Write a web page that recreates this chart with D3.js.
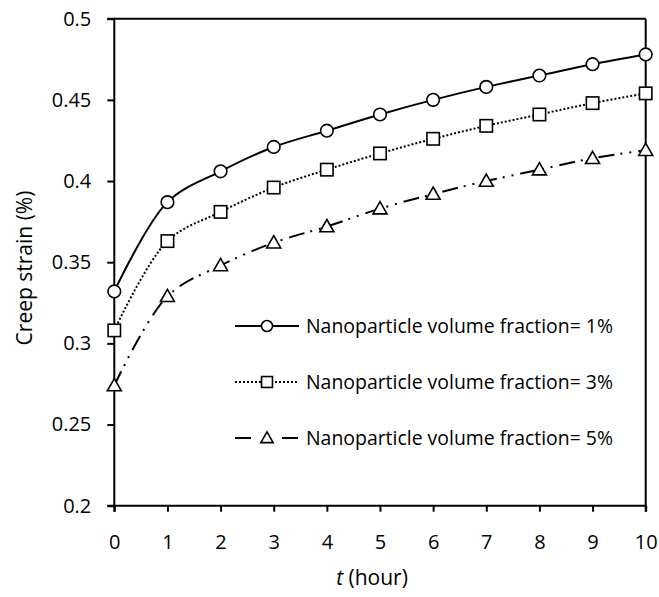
<!DOCTYPE html>
<html>
<head>
<meta charset="utf-8">
<script src="https://cdn.jsdelivr.net/npm/d3@7"></script>
<style>
html,body{margin:0;padding:0;background:#fff;}
svg{display:block;}
text{font-family:"Open Sans",Lato,sans-serif;fill:#000;}
</style>
</head>
<body>
<svg id="chart" width="659" height="597"></svg>
<script>
const hours = [0,1,2,3,4,5,6,7,8,9,10];
const vf1 = [0.332,0.387,0.406,0.421,0.431,0.441,0.450,0.458,0.465,0.472,0.478];
const vf3 = [0.308,0.363,0.381,0.396,0.407,0.417,0.426,0.434,0.441,0.448,0.454];
const vf5 = [0.274,0.329,0.348,0.362,0.372,0.383,0.392,0.400,0.407,0.414,0.419];
const seriesNames = ["Nanoparticle volume fraction= 1%","Nanoparticle volume fraction= 3%","Nanoparticle volume fraction= 5%"];
const xTicks = [0,1,2,3,4,5,6,7,8,9,10];
const yTicks = [0.2,0.25,0.3,0.35,0.4,0.45,0.5];

const FONT = "'Open Sans',Lato,sans-serif";
const FS = 20;
const svg = d3.select("#chart");
const L = 114.3, R = 645.7, T = 18.7, B = 505.7;
const x = d3.scaleLinear().domain([0,10]).range([L,R]);
const y = d3.scaleLinear().domain([0.2,0.5]).range([B,T]);

// frame top & right
svg.append("line").attr("x1",L).attr("x2",R).attr("y1",T).attr("y2",T).attr("stroke","#000").attr("stroke-width",2);
svg.append("line").attr("x1",R).attr("x2",R).attr("y1",T).attr("y2",B).attr("stroke","#000").attr("stroke-width",2);

const xAxis = svg.append("g").attr("transform",`translate(0,${B})`)
  .call(d3.axisBottom(x).tickValues(xTicks).tickSize(6).tickPadding(23).tickFormat(d3.format("d")));
const yAxis = svg.append("g").attr("transform",`translate(${L},0)`)
  .call(d3.axisLeft(y).tickValues(yTicks).tickSize(7).tickPadding(16).tickFormat(d=>String(+d.toFixed(2))));
[xAxis,yAxis].forEach(g=>{
  g.attr("font-size",FS).attr("font-family",FONT);
  g.select(".domain").attr("stroke","#000").attr("stroke-width",2);
  g.selectAll(".tick line").attr("stroke","#000").attr("stroke-width",2);
  g.selectAll(".tick text").attr("font-size",FS).attr("font-family",FONT).attr("fill","#000");
});
yAxis.select(".domain").attr("d",`M${-7},${B}H0V${T}H${-7}`);
xAxis.select(".domain").attr("d",`M${L},6V0H${R}V6`);

// axis titles
svg.append("text").attr("transform",`translate(25,268) rotate(-90)`).attr("text-anchor","middle")
  .attr("dy","0.35em").attr("font-size",21).text("Creep strain (%)");
const xt = svg.append("text").attr("x",372).attr("y",578).attr("dy","0.35em").attr("text-anchor","middle").attr("font-size",21);
xt.append("tspan").attr("font-style","italic").text("t");
xt.append("tspan").text(" (hour)");

const styles = [
  {data:vf1, dash:null, marker:"circle"},
  {data:vf3, dash:"2,2", marker:"square"},
  {data:vf5, dash:"16,6,2,7,2,7", marker:"triangle"}
];

const line = d3.line().x((d,i)=>x(hours[i])).y(d=>y(d)).curve(d3.curveCatmullRom.alpha(0.5));

function drawMarker(g, type, cx, cy, s){
  if(type==="circle"){
    g.append("circle").attr("cx",cx).attr("cy",cy).attr("r",6.3*s).attr("fill","#fff").attr("stroke","#000").attr("stroke-width",1.6);
  } else if(type==="square"){
    const h=6.2*s;
    g.append("rect").attr("x",cx-h).attr("y",cy-h).attr("width",2*h).attr("height",2*h).attr("fill","#fff").attr("stroke","#000").attr("stroke-width",1.6);
  } else {
    const h=7*s;
    g.append("path").attr("d",`M${cx},${cy-h}L${cx+h},${cy+h*0.75}L${cx-h},${cy+h*0.75}Z`).attr("fill","#fff").attr("stroke","#000").attr("stroke-width",1.6);
  }
}

styles.forEach(st=>{
  svg.append("path").attr("d",line(st.data)).attr("fill","none").attr("stroke","#000")
    .attr("stroke-width",2).attr("stroke-dasharray",st.dash);
  const g = svg.append("g");
  st.data.forEach((v,i)=>drawMarker(g, st.marker, x(hours[i]), y(v), 1));
});

// legend
const legY = [326, 382, 438];
const legDash = [null, "2,2", "16,31"];
styles.forEach((st,i)=>{
  const g = svg.append("g");
  g.append("line").attr("x1",235).attr("x2",299).attr("y1",legY[i]).attr("y2",legY[i])
    .attr("stroke","#000").attr("stroke-width",2).attr("stroke-dasharray",legDash[i]);
  drawMarker(g, st.marker, 267, legY[i], 0.88);
  g.append("text").attr("x",306).attr("y",legY[i]).attr("dy","0.35em").attr("font-size",FS)
    .attr("textLength",307).attr("lengthAdjust","spacingAndGlyphs").text(seriesNames[i]);
});
</script>
</body>
</html>
